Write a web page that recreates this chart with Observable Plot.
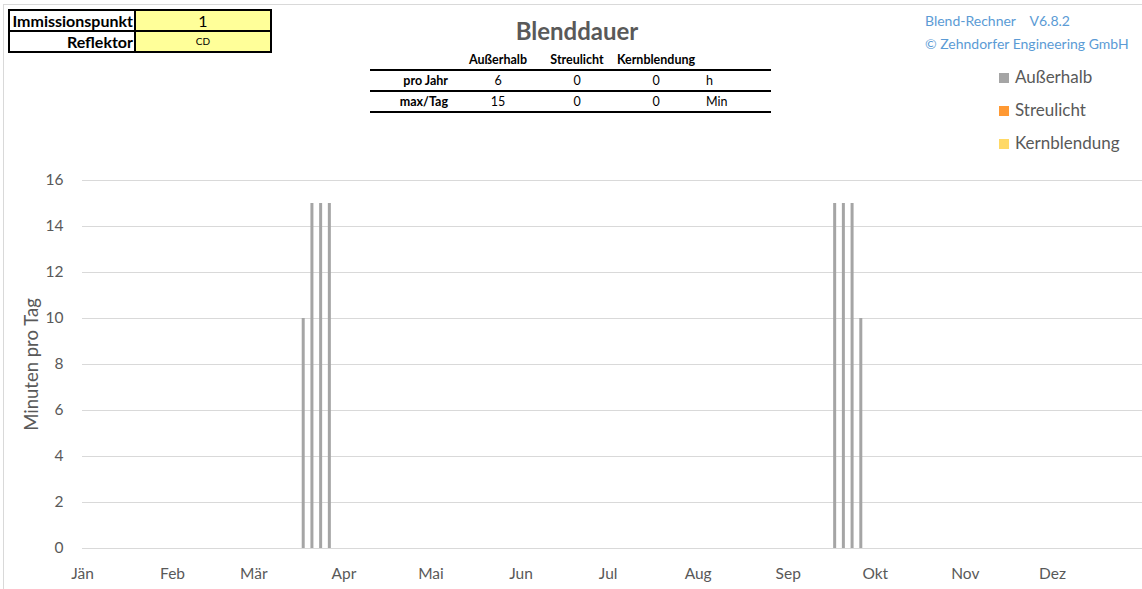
<!DOCTYPE html>
<html>
<head>
<meta charset="utf-8">
<script src="https://cdn.jsdelivr.net/npm/d3@7"></script>
<script src="https://cdn.jsdelivr.net/npm/@observablehq/plot@0.6"></script>
<style>
  html, body { margin: 0; padding: 0; background: #fff; }
  #wrap { position: relative; width: 1142px; height: 589px; overflow: hidden; font-family: Lato, "Open Sans", sans-serif; }
  #chart { position: absolute; left: 0; top: 0; }
  .abs { position: absolute; white-space: nowrap; }
  #border { position: absolute; left: 3px; top: 4px; width: 1200px; height: 700px; border-left: 1px solid #d9d9d9; border-top: 1px solid #d9d9d9; }
  #info { position: absolute; left: 8px; top: 9px; border-collapse: collapse; font-size: 16px; }
  #info td { border: 2px solid #000; height: 19px; padding: 0 1px; line-height: 19px; }
  #info td.lab { width: 122px; text-align: right; font-weight: bold; }
  #info td.val { width: 132px; text-align: center; background: #ffff99; }
  #title { left: 0; width: 1154px; top: 16px; text-align: center; font-weight: bold; font-size: 24px; color: #595959; }
  #stats { position: absolute; left: 370px; top: 50px; width: 401px; border-collapse: collapse; font-size: 12.5px; color: #000; }
  #stats td { padding: 0; height: 19px; line-height: 19px; text-align: center; }
  #stats tr.r td { border-top: 2px solid #000; }
  #stats tr.last td { border-bottom: 2px solid #000; }
  #stats td.h { font-weight: bold; }
  #stats td.lab { font-weight: bold; text-align: right; padding-right: 10px; }
  #stats td.unit { text-align: left; padding-left: 10px; }
  .brand { color: #5b9bd5; font-size: 14px; }
  .leg { font-size: 17px; color: #595959; left: 999px; }
  .leg span.sw { display: inline-block; width: 10px; height: 10px; margin-right: 6px; vertical-align: 0px; }
</style>
</head>
<body>
<div id="wrap">
  <div id="border"></div>
  <div id="chart"></div>
</div>
<script>
// ---- data ----
const seriesNames = ["Außerhalb", "Streulicht", "Kernblendung"];
const seriesColors = ["#a5a5a5", "#ff9933", "#ffd966"];
const dates = ["2023-03-18", "2023-03-21", "2023-03-24", "2023-03-27",
               "2023-09-17", "2023-09-20", "2023-09-23", "2023-09-26"];
const ausserhalb = [10, 15, 15, 15, 15, 15, 15, 10];
const streulicht = [0, 0, 0, 0, 0, 0, 0, 0];
const kernblendung = [0, 0, 0, 0, 0, 0, 0, 0];
const monthLabels = ["Jän", "Feb", "Mär", "Apr", "Mai", "Jun", "Jul", "Aug", "Sep", "Okt", "Nov", "Dez"];
const yTicks = [0, 2, 4, 6, 8, 10, 12, 14, 16];
const statsHeader = ["Außerhalb", "Streulicht", "Kernblendung"];
const statsRows = [
  { label: "pro Jahr", values: [6, 0, 0], unit: "h" },
  { label: "max/Tag", values: [15, 0, 0], unit: "Min" }
];
const infoRows = [["Immissionspunkt", "1"], ["Reflektor", "CD"]];
const brandLines = ["Blend-Rechner\u00a0\u00a0\u00a0\u00a0V6.8.2", "© Zehndorfer Engineering GmbH"];

// ---- build ----
const rows = [];
dates.forEach((d, i) => {
  rows.push({ date: new Date(d), series: "Außerhalb", value: ausserhalb[i] });
  rows.push({ date: new Date(d), series: "Streulicht", value: streulicht[i] });
  rows.push({ date: new Date(d), series: "Kernblendung", value: kernblendung[i] });
});
const monthTicks = monthLabels.map((_, m) => new Date(Date.UTC(2023, m, 1)));

const plot = Plot.plot({
  width: 1142,
  height: 589,
  marginLeft: 82,
  marginRight: 0,
  marginTop: 180,
  marginBottom: 41,
  style: { fontFamily: "Lato, 'Open Sans', sans-serif", background: "transparent", overflow: "visible" },
  x: { type: "utc", domain: [new Date(Date.UTC(2023, 0, 1)), new Date(Date.UTC(2024, 0, 1))] },
  y: { domain: [0, 16] },
  color: { domain: seriesNames, range: seriesColors },
  marks: [
    Plot.gridY({ ticks: yTicks, stroke: "#d9d9d9", strokeOpacity: 1, strokeWidth: 1 }),
    Plot.axisY({ ticks: yTicks, tickSize: 0, tickPadding: 19, fontSize: 15.5, fill: "#595959", label: null }),
    Plot.axisX({ ticks: monthTicks, tickFormat: (d) => monthLabels[d.getUTCMonth()], tickSize: 0, tickPadding: 19, fontSize: 15.5, fill: "#595959", label: null }),
    Plot.ruleX(rows.filter(r => r.value > 0), { x: "date", y1: 0, y2: "value", stroke: "series", strokeWidth: 3 }),
    Plot.text(["Minuten pro Tag"], { frameAnchor: "left", textAnchor: "middle", dx: -50, rotate: -90, fontSize: 18.5, fill: "#595959" })
  ]
});
document.getElementById("chart").appendChild(plot);

const wrap = document.getElementById("wrap");

// info table
const info = document.createElement("table");
info.id = "info";
infoRows.forEach(([l, v], i) => {
  const tr = document.createElement("tr");
  const a = document.createElement("td"); a.className = "lab"; a.textContent = l;
  const b = document.createElement("td"); b.className = "val"; b.textContent = v;
  if (i === 1) b.style.fontSize = "10px";
  tr.append(a, b); info.appendChild(tr);
});
wrap.appendChild(info);

// title
const title = document.createElement("div");
title.className = "abs"; title.id = "title"; title.textContent = "Blenddauer";
wrap.appendChild(title);

// stats table
const st = document.createElement("table");
st.id = "stats";
const colW = [88, 80, 78, 80, 75];
const hr = document.createElement("tr");
["", ...statsHeader, ""].forEach((h, i) => {
  const td = document.createElement("td"); td.className = "h"; td.textContent = h; td.style.width = colW[i] + "px";
  hr.appendChild(td);
});
st.appendChild(hr);
statsRows.forEach((r, k) => {
  const tr = document.createElement("tr");
  tr.className = "r" + (k === statsRows.length - 1 ? " last" : "");
  const l = document.createElement("td"); l.className = "lab"; l.textContent = r.label; tr.appendChild(l);
  r.values.forEach(v => { const td = document.createElement("td"); td.textContent = v; tr.appendChild(td); });
  const u = document.createElement("td"); u.className = "unit"; u.textContent = r.unit; tr.appendChild(u);
  st.appendChild(tr);
});
wrap.appendChild(st);

// brand
brandLines.forEach((t, i) => {
  const d = document.createElement("div");
  d.className = "abs brand"; d.textContent = t;
  d.style.left = "925px"; d.style.top = (12 + i * 23) + "px";
  wrap.appendChild(d);
});

// legend
seriesNames.forEach((n, i) => {
  const d = document.createElement("div");
  d.className = "abs leg";
  d.style.top = (66 + i * 33) + "px";
  const sw = document.createElement("span"); sw.className = "sw"; sw.style.background = seriesColors[i];
  d.appendChild(sw); d.appendChild(document.createTextNode(n));
  wrap.appendChild(d);
});
</script>
</body>
</html>
